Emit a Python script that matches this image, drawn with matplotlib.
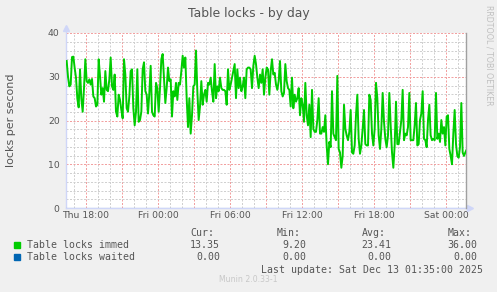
import numpy as np
import matplotlib
matplotlib.use("Agg")
import matplotlib.pyplot as plt
from matplotlib.patches import Rectangle

# Munin "Table locks - by day"
# time axis in hours counted from Thu 00:00
tick_hours = [18, 24, 30, 36, 42, 48]
tick_labels = ["Thu 18:00", "Fri 00:00", "Fri 06:00", "Fri 12:00", "Fri 18:00", "Sat 00:00"]
t_first = 16.389      # time of first reading
t_step = 1 / 9        # one reading every 6 min 40 s

immed = [
    33.6, 30.0, 27.8, 28.2, 34.5, 34.6, 32.0, 29.8, 25.0, 23.0,
    31.7, 25.0, 22.0, 27.4, 34.0, 29.0, 28.6, 29.4, 28.2, 29.5,
    25.5, 25.1, 23.2, 23.6, 34.0, 30.2, 25.9, 27.4, 24.3, 31.3,
    27.0, 26.7, 29.4, 34.4, 27.8, 27.0, 30.5, 22.0, 20.9, 25.9,
    24.7, 22.4, 20.5, 34.0, 30.5, 22.8, 22.0, 25.5, 31.3, 31.7,
    22.8, 18.9, 22.0, 31.7, 19.7, 20.1, 22.0, 31.7, 33.3, 26.7,
    25.9, 21.6, 26.3, 32.5, 22.0, 21.2, 20.9, 28.6, 27.4, 22.0,
    27.4, 34.0, 35.2, 29.4, 24.0, 27.4, 32.1, 29.0, 29.4, 20.9,
    26.7, 25.5, 28.6, 24.7, 28.6, 28.2, 31.3, 34.8, 32.1, 34.4,
    25.1, 18.5, 25.1, 17.0, 21.2, 27.8, 28.2, 36.0, 26.7, 20.1,
    23.2, 29.0, 23.6, 25.9, 27.0, 24.3, 28.6, 28.2, 29.8, 26.7,
    24.3, 32.9, 25.1, 27.8, 26.7, 29.8, 27.4, 27.0, 27.0, 26.7,
    23.6, 31.7, 27.0, 28.2, 29.8, 31.3, 32.9, 25.1, 31.7, 27.4,
    29.8, 26.7, 27.8, 29.8, 25.1, 31.7, 32.1, 32.1, 31.7, 27.4,
    32.5, 34.8, 32.9, 29.8, 27.4, 30.5, 28.6, 31.7, 25.9, 29.8,
    32.1,
    31.7, 25.9, 31.3, 34.0, 30.5, 30.9, 28.2, 27.0, 29.0, 33.6,
    26.7, 25.5, 26.3, 32.9, 29.0, 27.4, 27.0, 23.2, 29.8, 22.8,
    25.9, 24.3, 25.1, 27.4, 21.2, 25.1, 23.6, 19.7, 28.6, 21.2,
    18.9, 23.6, 16.2, 27.0, 18.1, 17.4, 17.4, 20.1, 25.1, 17.0,
    17.0, 18.5, 17.4, 21.2, 14.3, 10.0, 15.1, 13.9, 26.7, 17.0,
    16.2,
    15.5, 30.2, 13.5, 12.7, 9.2, 11.9, 23.6, 18.1, 16.6, 15.5,
    17.4, 22.4, 12.7, 12.4, 14.3, 21.2, 25.9, 15.8, 12.4, 14.3,
    18.1, 22.4, 14.6, 14.3, 14.3, 25.9, 24.7, 17.0, 14.3, 18.1,
    28.6, 25.1, 16.6, 13.5, 18.1, 26.3, 19.7, 15.8, 13.9, 16.6,
    26.3, 18.9, 12.7, 9.2, 14.3, 24.3, 14.6, 14.6, 17.4, 20.1,
    27.0,
    15.5, 17.0, 16.6, 18.5, 26.3, 15.5, 15.5, 15.5, 18.9, 24.0,
    14.3, 14.6, 20.1, 21.6, 26.7, 15.8, 15.5, 13.9, 20.1, 23.6,
    16.6, 15.5, 15.8, 15.5, 26.3, 15.8, 17.0, 15.1, 20.1, 17.0,
    18.5, 14.3, 20.9, 21.2, 13.5, 11.9, 10.0, 17.0, 22.4, 14.6,
    11.9, 11.5, 13.9, 24.0, 12.7, 11.9, 12.7, 13.35,
]
waited = [0.00, 0.00]

series_names = ["Table locks immed", "Table locks waited"]
series_colors = ["#00CC00", "#0066B3"]
cur = [13.35, 0.00]
mins = [9.20, 0.00]
avgs = [23.41, 0.00]
maxs = [36.00, 0.00]

W, H = 497, 292
x_lo, x_hi = 16.333, 49.667

def fx(x):
    return x / W

def fy(y):
    return 1 - y / H

fig = plt.figure(figsize=(W / 100, H / 100), dpi=100, facecolor="#F0F0F0")
ax = fig.add_axes([fx(66), fy(208), 400 / W, 175 / H], facecolor="white")
ax.set_xlim(x_lo, x_hi)
ax.set_ylim(0, 40)

# grid: grey minor, red major
dots = (0, (2, 1.5))
for h in range(17, 50):
    c = "#f2a0a0" if h % 3 == 0 else "#d0d0d0"
    ax.axvline(h, color=c, lw=0.72, ls=dots, zorder=1)
for v in range(2, 41, 2):
    c = "#f2a0a0" if v % 10 == 0 else "#d0d0d0"
    ax.axhline(v, color=c, lw=0.72, ls=dots, zorder=1)

times = t_first + t_step * np.arange(len(immed))
ax.plot(times, immed, color=series_colors[0], lw=1.4, zorder=3)

for s in ax.spines.values():
    s.set_visible(False)
ax.spines["right"].set_visible(True)
ax.spines["right"].set_color("#a0a0a0")
ax.spines["right"].set_linewidth(1)

# axes with arrows
axis_c = "#CFD6F8"
ax.plot([x_lo, x_hi + 0.35], [0, 0], color=axis_c, lw=1, clip_on=False, zorder=2)
ax.plot(x_hi + 0.35, 0, marker=">", color=axis_c, ms=4, clip_on=False, zorder=2)
ax.plot([x_lo, x_lo], [0, 41.0], color=axis_c, lw=1, clip_on=False, zorder=2)
ax.plot(x_lo, 41.2, marker="^", color=axis_c, ms=4, clip_on=False, zorder=2)
ax.plot([x_lo, x_hi], waited, color=series_colors[1], lw=0.8, alpha=0.55, zorder=4)

txt_c = "#555555"
ax.set_xticks(tick_hours, tick_labels)
ax.set_yticks([0, 10, 20, 30, 40])
ax.tick_params(axis="both", length=0, labelsize=6.7, labelcolor=txt_c)
ax.tick_params(axis="x", pad=2.5)
ax.tick_params(axis="y", pad=4.5)

fig.text(fx(248.5), fy(13), "Table locks - by day", ha="center", va="center",
         fontsize=8.9, color=txt_c)
fig.text(fx(11), fy(120), "locks per second", rotation=90, ha="center", va="center",
         fontsize=8, color=txt_c)
fig.text(fx(489), fy(5), "RRDTOOL / TOBI OETIKER", rotation=270, ha="center", va="top",
         fontsize=5.7, color="#c0c0c0")

# legend block
mono = "DejaVu Sans Mono"
fs = 7.1
head_x = [190.7, 276.7, 361.7, 447.7]
val_x = [220, 306, 391, 477.7]
for x, lab in zip(head_x, ["Cur:", "Min:", "Avg:", "Max:"]):
    fig.text(fx(x), fy(233), lab, family=mono, fontsize=fs, color=txt_c, ha="left", va="center")
rows_y = [245, 257]
for i, y in enumerate(rows_y):
    fig.patches.append(Rectangle((fx(14), fy(y + 3)), 6 / W, 6 / H, color=series_colors[i],
                                 transform=fig.transFigure, figure=fig))
    fig.text(fx(27), fy(y), series_names[i], family=mono, fontsize=fs, color=txt_c,
             ha="left", va="center")
    for x, col in zip(val_x, [cur, mins, avgs, maxs]):
        fig.text(fx(x), fy(y), f"{col[i]:.2f}", family=mono, fontsize=fs, color=txt_c,
                 ha="right", va="center")
fig.text(fx(482.7), fy(270), "Last update: Sat Dec 13 01:35:00 2025", family=mono,
         fontsize=fs, color=txt_c, ha="right", va="center")
fig.text(fx(248.5), fy(280), "Munin 2.0.33-1", ha="center", va="center",
         fontsize=5.6, color="#c8c8c8")

fig.savefig("out.png", dpi=100, facecolor=fig.get_facecolor())
